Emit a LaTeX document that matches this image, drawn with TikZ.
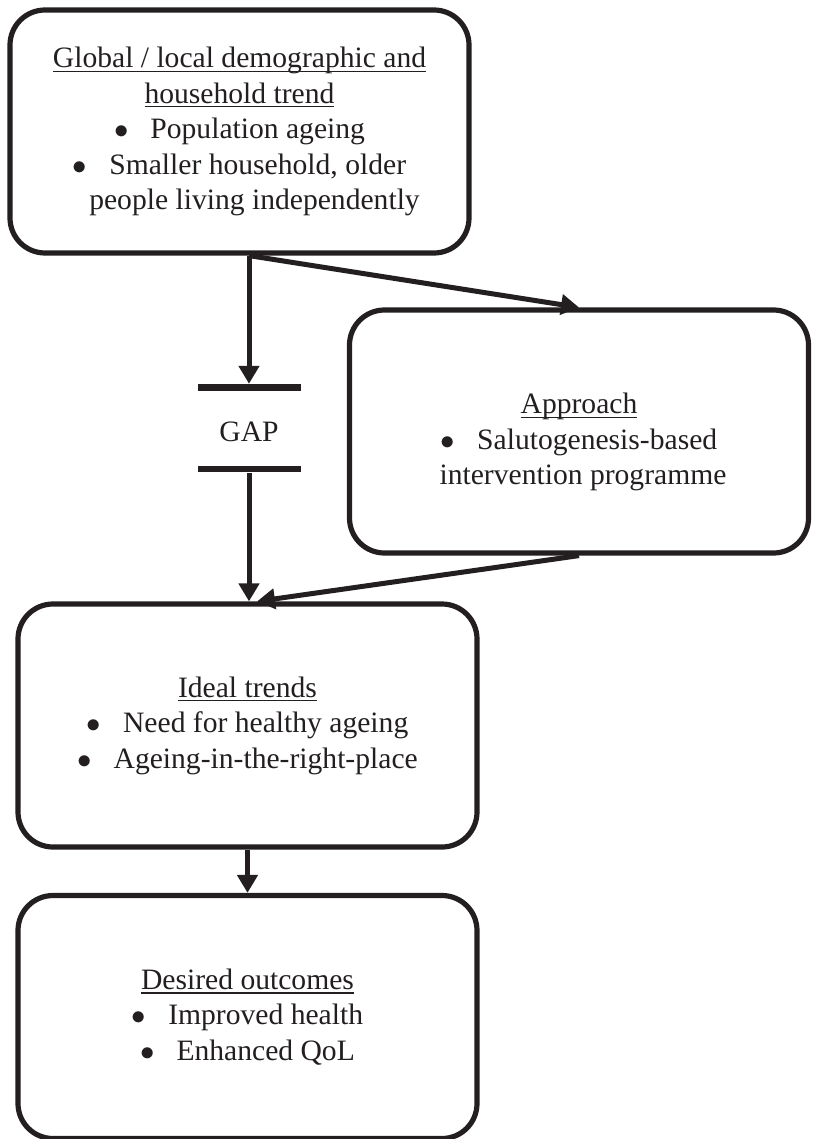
\documentclass[tikz,border=0pt]{standalone}
\usepackage{fontspec}
\setmainfont{Liberation Serif}
\usetikzlibrary{arrows.meta}
\definecolor{ink}{HTML}{231F20}
\tikzset{
	stage/.style={draw=ink, text=ink, line width=2.6pt, rounded corners=17.5pt,
		minimum width=229.5pt, minimum height=121.5pt, inner sep=0pt, align=center,
		font=\fontsize{14.8}{17.75}\selectfont},
	gapbar/.style={fill=ink, minimum width=51.5pt, minimum height=3.3pt, inner sep=0pt},
	link/.style={draw=ink, line width=2.5pt, -{Triangle[length=9pt,width=10pt]}}
}
\newsavebox{\ulbox}
\newcommand{\uln}[1]{\sbox{\ulbox}{#1}\rlap{\rule[-2.2pt]{\wd\ulbox}{0.7pt}}\usebox{\ulbox}}
\newcommand{\itm}{$\bullet$\hspace{11pt}}
\begin{document}
\begin{tikzpicture}[x=0.5pt, y=-0.5pt, line join=round]
	\useasboundingbox (0,0) rectangle (814,1139);
	% boxes
	\node[stage] (global) at (239.5,131.5) {\uln{Global / local demographic and}\\
		\uln{household trend}\\
		\itm Population ageing\\
		\itm Smaller household, older\\
		\hspace*{15pt}people living independently};
	\node[stage] (approach) at (579,431.5) {\rule{0pt}{21pt}\uln{Approach}\\
		\itm Salutogenesis-based\\
		\hspace*{4pt}intervention programme};
	\node[stage] (ideal) at (247.5,725.5) {\uln{Ideal trends}\\
		\itm Need for healthy ageing\\
		\itm Ageing-in-the-right-place};
	\node[stage] (desired) at (247.5,1017) {\uln{Desired outcomes}\\
		\itm Improved health\\
		\itm Enhanced QoL};
	% gap
	\node[gapbar] (gaptop) at (249,387.5) {};
	\node[gapbar] (gapbot) at (249,469) {};
	\node[text=ink, font=\fontsize{14.8}{16}\selectfont] (gap) at (249,432) {GAP};
	% arrows
	\draw[link] (global.south -| gaptop) -- (gaptop.north);
	\draw[link] (global.south -| gaptop) -- (approach.north);
	\draw[link] (gapbot.south) -- (ideal.north -| gapbot);
	\draw[link] (approach.south) -- ([xshift=4pt]ideal.north -| gapbot);
	\draw[link] (ideal.south) -- (desired.north);
\end{tikzpicture}
\end{document}
